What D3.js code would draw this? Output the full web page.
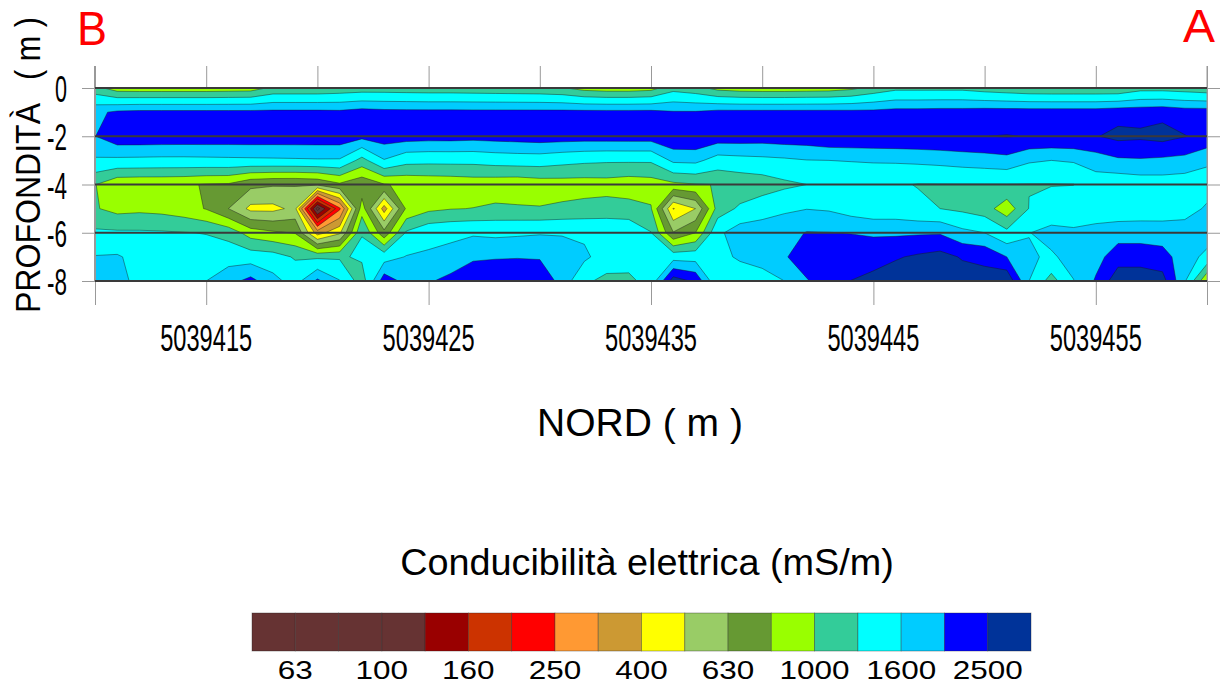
<!DOCTYPE html>
<html><head><meta charset="utf-8">
<script src="https://cdnjs.cloudflare.com/ajax/libs/d3/7.8.5/d3.min.js"></script>
<style>html,body{margin:0;padding:0;background:#fff}svg{display:block}text{font-family:"Liberation Sans",Arial,sans-serif;fill:#000}</style>
</head><body><svg id="c" width="1220" height="684"></svg>
<script>
// One column per metre, from NORD 5039410 to 5039460
const northStart = 5039410;
const depths = [0,-1,-2,-3,-4,-5,-6,-7,-8];
// Conductivity (mS/m), one list per depth
const depth0 = [1080,890,880,880,880,880,890,900,1050,1050,1050,1080,1110,1110,1100,1090,1090,1080,1070,1060,1050,1020,920,890,890,920,1150,1080,930,890,880,880,890,900,950,1070,1180,1180,1180,1180,1120,1080,1040,1030,1030,1030,1030,1150,1150,1120,1080];
const depth1 = [1900,2080,2120,2120,2120,2120,2120,2120,2120,2120,2120,2100,2200,2150,2140,2130,2130,2130,2130,2130,2130,2130,2130,2130,2130,2130,2040,2040,2140,2140,2140,2140,2140,2140,2130,2130,2180,2180,2200,2200,2230,2230,2230,2230,2230,2230,2300,2310,2350,2240,2240];
const depth2 = [1990,2340,2340,2330,2320,2320,2310,2310,2300,2300,2296,2300,2140,2250,2230,2200,2200,2170,2200,2230,2270,2250,2230,2240,2250,2250,2450,2450,2280,2270,2245,2290,2300,2420,2430,2440,2450,2460,2480,2490,2495,2520,2480,2470,2470,2470,2650,2600,2700,2520,2380];
const depth3 = [1550,1517,1510,1500,1500,1510,1520,1530,1540,1550,1563,1560,1150,1578,1355,1336,1340,1340,1380,1400,1406,1350,1310,1290,1290,1290,1680,1700,1445,1480,1507,1540,1590,1600,1620,1640,1650,1680,1715,1770,1815,1870,1650,1600,1640,1800,1930,1955,1915,1875,1660];
const depth4 = [1010,840,830,830,820,790,780,670,645,640,660,770,680,790,830,850,860,880,870,860,890,900,900,910,880,900,950,990,1005,1060,1100,1190,1250,1270,1290,1300,1280,1240,1240,1240,1240,1240,1240,1240,1245,1400,1360,1406,1425,1396,1450];
const depth5 = [1020,930,950,930,880,790,630,470,470,530,90,240,900,360,830,950,990,1005,1043,1030,1014,1043,1080,1100,1090,1020,395,500,1100,1303,1450,1540,1590,1560,1446,1370,1380,1300,1250,1190,1110,870,1260,1368,1400,1420,1380,1400,1420,1450,1650];
const depth6 = [1300,1294,1290,1280,1260,1240,1150,900,830,790,360,480,1240,680,1290,1480,1525,1550,1515,1540,1570,1570,1530,1510,1480,1260,640,800,1520,1811,1800,1850,2020,2010,1990,1950,1930,1950,1960,1700,1600,1330,1590,1720,1660,1720,1820,1820,1790,1800,1800];
const depth7 = [1620,1640,1480,1430,1420,1380,1450,1420,1380,1220,1200,1210,1300,1440,1620,1655,1710,1940,1970,1980,1960,1800,1680,1420,1400,1380,1455,1450,1500,1650,1750,1950,2300,2300,2200,2250,2450,2580,2700,2450,2380,2000,1640,1555,1720,1850,2250,2250,2180,1780,1503];
const depth8 = [1680,1750,1480,1400,1380,1600,1850,2150,1725,1450,2100,1620,1100,2300,1850,1950,2150,2300,2300,2320,2350,1850,1300,1180,1180,1380,2800,2400,1300,1400,1450,1600,1960,2300,2510,2700,2800,2800,2850,2800,2700,3000,1600,1130,1590,2050,2880,2880,2720,1640,810];
const grid = [depth0,depth1,depth2,depth3,depth4,depth5,depth6,depth7,depth8];

const levels = [63,80,100,125,160,200,250,315,400,500,630,800,1000,1250,1600,2000,2500];
const colors = ["#663333","#663333","#663333","#663333","#990000","#cc3300","#ff0000","#ff9933","#cc9933","#ffff00","#99cc66","#669933","#99ff00","#33cc99","#00ffff","#00ccff","#0000ff","#003399"];
const legendLabels = [63,100,160,250,400,630,1000,1600,2500];
const xTickValues = [5039415,5039425,5039435,5039445,5039455];
const xTopTicks = [5039410,5039415,5039420,5039425,5039430,5039435,5039440,5039445,5039450,5039455,5039460];

const svg = d3.select("#c");
const x = d3.scaleLinear().domain([5039410,5039460]).range([95,1207]);
const y = d3.scaleLinear().domain([0,-8]).range([88,281]);

svg.append("defs").append("clipPath").attr("id","plot").append("rect")
  .attr("x",x.range()[0]).attr("y",y.range()[0])
  .attr("width",x.range()[1]-x.range()[0]).attr("height",y.range()[1]-y.range()[0]);

// contours
const nCol = depth0.length, nRow = grid.length;
const flat = grid.flat().map(v=>Math.log10(v));
const contours = d3.contours().size([nCol,nRow]).smooth(true).thresholds(levels.map(v=>Math.log10(v)))(flat);
const proj = d3.geoTransform({point(px,py){
  this.stream.point(x(northStart+px-0.5), y(-(py-0.5)));
}});
const path = d3.geoPath(proj);
const gPlot = svg.append("g").attr("clip-path","url(#plot)");
gPlot.append("rect").attr("x",95).attr("y",88).attr("width",1112).attr("height",193).attr("fill",colors[0]);
gPlot.selectAll("path").data(contours).join("path")
  .attr("d",path)
  .attr("fill",(d,i)=>colors[i+1])
  .attr("stroke","#1a1a1a").attr("stroke-opacity",0.55).attr("stroke-width",0.8).attr("stroke-linejoin","round");

// axes
const gray = "#999999";
function style(g){ g.selectAll(".domain").attr("stroke",gray); g.selectAll("line").attr("stroke",gray); g.selectAll("text").remove(); }
const evenDepths = depths.filter(d=>d%2===0);
svg.append("g").attr("transform","translate(0,88)").call(d3.axisTop(x).tickValues(xTopTicks).tickSizeOuter(0).tickSize(22)).call(style);
svg.append("g").attr("transform","translate(0,281)").call(d3.axisBottom(x).tickValues(xTickValues).tickSizeOuter(0).tickSize(24)).call(style);
svg.append("g").attr("transform","translate(95,0)").call(d3.axisLeft(y).tickValues(evenDepths).tickSize(13).tickSizeOuter(0)).call(style);
svg.append("g").attr("transform","translate(1207,0)").call(d3.axisRight(y).tickValues(evenDepths).tickSize(13).tickSizeOuter(0)).call(style);
svg.append("line").attr("x1",94.5).attr("x2",94.5).attr("y1",66).attr("y2",281).attr("stroke",gray);
svg.append("line").attr("x1",1207).attr("x2",1207).attr("y1",66).attr("y2",281).attr("stroke",gray);

// dark horizontal lines
svg.selectAll(".hl").data(evenDepths).join("line").attr("class","hl")
  .attr("x1",95).attr("x2",1207).attr("y1",d=>y(d)).attr("y2",d=>y(d))
  .attr("stroke","#3a3a3a").attr("stroke-width",2);

// tick labels
svg.selectAll(".yl").data(evenDepths).join("text").attr("class","yl")
  .attr("x",67).attr("y",d=>y(d)+14).attr("text-anchor","end")
  .attr("font-size",37).attr("textLength",d=>d===0?12:20).attr("lengthAdjust","spacingAndGlyphs").text(d=>d);
svg.selectAll(".xl").data(xTickValues).join("text").attr("class","xl")
  .attr("x",d=>x(d)).attr("y",351).attr("text-anchor","middle")
  .attr("font-size",36).attr("textLength",92).attr("lengthAdjust","spacingAndGlyphs").text(d=>d);

// titles
svg.append("text").attr("x",640).attr("y",436).attr("text-anchor","middle").attr("font-size",39).text("NORD ( m )");
svg.append("text").attr("transform","translate(40,313) rotate(-90)").attr("font-size",35).attr("textLength",210).attr("lengthAdjust","spacingAndGlyphs").text("PROFONDITÀ");
svg.append("text").attr("transform","translate(40,80) rotate(-90)").attr("font-size",35).attr("textLength",63).attr("lengthAdjust","spacingAndGlyphs").text("( m )");
svg.append("text").attr("x",77).attr("y",45).attr("font-size",49).attr("textLength",30).attr("lengthAdjust","spacingAndGlyphs").style("fill","#ff0000").text("B");
svg.append("text").attr("x",1183).attr("y",42).attr("font-size",45.5).attr("textLength",32).attr("lengthAdjust","spacingAndGlyphs").style("fill","#ff0000").text("A");
svg.append("text").attr("x",647).attr("y",575).attr("text-anchor","middle").attr("font-size",37.8).text("Conducibilità elettrica (mS/m)");

// legend
const lx = d3.scaleBand().domain(d3.range(colors.length)).range([252,1031]).padding(0);
svg.selectAll(".lg").data(colors).join("rect").attr("class","lg")
  .attr("x",(d,i)=>lx(i)).attr("y",613).attr("width",lx.bandwidth()).attr("height",38)
  .attr("fill",d=>d).attr("stroke","#222").attr("stroke-opacity",0.45).attr("stroke-width",0.8);
svg.selectAll(".ll").data(legendLabels).join("text").attr("class","ll")
  .attr("x",(d,i)=>lx(i*2+1)).attr("y",679).attr("text-anchor","middle")
  .attr("font-size",25).attr("textLength",d=>String(d).length*17.5).attr("lengthAdjust","spacingAndGlyphs").text(d=>d);
</script></body></html>
